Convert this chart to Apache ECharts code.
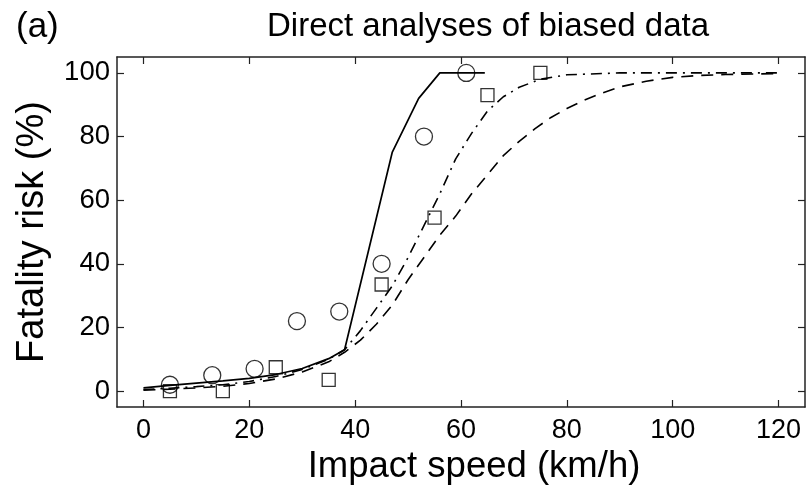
<!DOCTYPE html>
<html>
<head>
<meta charset="utf-8">
<script src="https://cdn.jsdelivr.net/npm/echarts@6/dist/echarts.min.js"></script>
<style>html,body{margin:0;padding:0;background:#fff}#c{width:810px;height:486px}</style>
</head>
<body>
<div id="c"></div>
<script>
// ---- data ----
const xTicks = [0, 20, 40, 60, 80, 100, 120];
const yTicks = [0, 20, 40, 60, 80, 100];
const circles = [[5, 2], [13, 5], [21, 7], [29, 22], [37, 25], [45, 40], [53, 80], [61, 100]];
const squares = [[5, 0], [15, 0], [25, 7.5], [35, 3.5], [45, 33.5], [55, 54.5], [65, 93], [75, 100]];
const solidCurve = [[0, 1], [5, 1.8], [10, 2.5], [15, 3.2], [20, 4], [25, 5.2], [30, 7.1], [35, 10.2], [38, 13], [47, 75], [52, 92], [56, 100], [64.5, 100]];
const dashDotCurve = [[0, 0.5], [5, 0.9], [10, 1.4], [15, 2], [20, 3], [25, 4.6], [30, 6.8], [35, 10], [38, 13], [41, 19], [44, 26], [47, 33], [50, 42], [53, 52], [56, 62], [59, 73], [62, 81], [65, 88], [68, 92.5], [71, 95.5], [75, 98], [80, 99.4], [90, 100], [100, 100], [120, 100]];
const dashedCurve = [[0, 0.3], [5, 0.6], [10, 1], [15, 1.5], [20, 2.4], [25, 3.8], [30, 6], [35, 9.2], [38, 12.2], [41, 16], [44, 21], [47, 27], [50, 35], [53, 42], [56, 49], [59, 55], [62, 62], [65, 68], [68, 74], [71, 78.5], [74, 82.5], [77, 86], [80, 88.8], [83, 91.2], [86, 93.3], [90, 95.6], [95, 97.4], [100, 98.6], [105, 99.2], [110, 99.5], [120, 99.8]];

const FONT = '"Liberation Sans", Arial, Helvetica, sans-serif';
const AX = '#222';
function xAx(pos, show) {
  return {
    type: 'value', position: pos, min: -5, max: 125,
    axisLine: {show: true, onZero: false, lineStyle: {color: AX, width: 1.5}},
    axisTick: {show: true, inside: true, length: 7, customValues: xTicks, lineStyle: {color: AX, width: 1.2}},
    axisLabel: {show: show, customValues: xTicks, margin: 10, color: '#000', fontSize: 27, fontFamily: FONT},
    splitLine: {show: false},
    name: show ? 'Impact speed (km/h)' : '', nameLocation: 'middle', nameGap: 35,
    nameTextStyle: {color: '#000', fontSize: 36.5, fontFamily: FONT, padding: [0, 0, 0, 26]}
  };
}
function yAx(pos, show) {
  return {
    type: 'value', position: pos, min: -5, max: 105,
    axisLine: {show: true, onZero: false, lineStyle: {color: AX, width: 1.5}},
    axisTick: {show: true, inside: true, length: 7, customValues: yTicks, lineStyle: {color: AX, width: 1.2}},
    axisLabel: {show: show, customValues: yTicks, margin: 7, color: '#000', fontSize: 27.5, fontFamily: FONT},
    splitLine: {show: false},
    name: show ? 'Fatality risk (%)' : '', nameLocation: 'middle', nameGap: 65,
    nameTextStyle: {color: '#000', fontSize: 38, fontFamily: FONT}
  };
}
const chart = echarts.init(document.getElementById('c'), null, {renderer: 'canvas'});
chart.setOption({
  backgroundColor: '#fff',
  animation: false,
  title: [
    {text: 'Direct analyses of biased data', left: 262, top: 5, textStyle: {fontSize: 33, fontWeight: 'normal', color: '#000', fontFamily: FONT}},
    {text: '(a)', left: 11, top: 5, textStyle: {fontSize: 35, fontWeight: 'normal', color: '#000', fontFamily: FONT}}
  ],
  grid: {left: 117, right: 5, top: 57, bottom: 79, containLabel: false, outerBoundsMode: 'none'},
  xAxis: [xAx('bottom', true), xAx('top', false)],
  yAxis: [yAx('left', true), yAx('right', false)],
  series: [
    {type: 'line', data: dashedCurve, symbol: 'none', lineStyle: {color: '#000', width: 1.6, type: [12, 8]}},
    {type: 'line', data: dashDotCurve, symbol: 'none', lineStyle: {color: '#000', width: 1.6, type: [11, 6, 2, 6]}},
    {type: 'line', data: solidCurve, symbol: 'none', lineStyle: {color: '#000', width: 1.7}},
    {type: 'scatter', data: circles, symbol: 'circle', symbolSize: 17, itemStyle: {color: 'rgba(0,0,0,0)', borderColor: '#000', borderWidth: 1.3}, z: 5},
    {type: 'scatter', data: squares, symbol: 'rect', symbolSize: 13, itemStyle: {color: 'rgba(0,0,0,0)', borderColor: '#000', borderWidth: 1.3}, z: 5}
  ]
});
</script>
</body>
</html>
